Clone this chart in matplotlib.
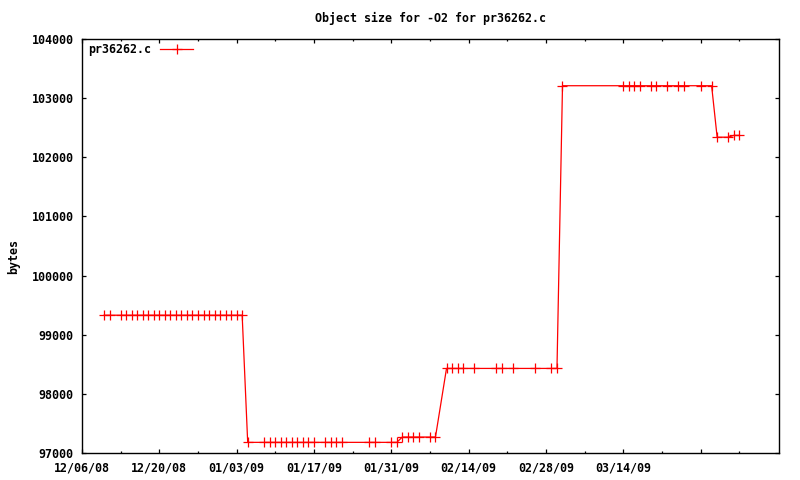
"""
Object size over time for pr36262.c (-O2)
"""

import numpy as np
import pandas as pd
import matplotlib
matplotlib.use('Agg')
from matplotlib import pyplot as plt

# data: days after 12/06/08 and object size in bytes
start = pd.Timestamp('2008-12-06')
day_offsets = [4, 5, 7, 8, 9, 10, 11, 12, 13, 14, 15, 16, 17, 18, 19, 20, 21, 22, 23, 24, 25, 26, 27, 28, 29,
               30, 33, 34, 35, 36, 37, 38, 39, 40, 41, 42, 44, 45, 46, 47, 52, 53, 56, 57,
               58, 59, 60, 61, 63, 64,
               66, 67, 68, 69, 71, 75, 76, 78, 82, 85, 86,
               87, 98, 99, 100, 101, 103, 104, 106, 108, 109, 112, 114,
               115, 117, 118, 119]
sizes = [99330] * 25 + [97180] * 19 + [97270] * 6 + [98430] * 11 + [103210] * 12 + \
        [102340, 102340, 102370, 102370]

# axis ticks
major_dates = ['12/06/08', '12/20/08', '01/03/09', '01/17/09', '01/31/09', '02/14/09', '02/28/09',
               '03/14/09', '03/28/09']
major_labels = ['12/06/08', '12/20/08', '01/03/09', '01/17/09', '01/31/09', '02/14/09', '02/28/09',
                '03/14/09', '']
minor_dates = ['12/13/08', '12/27/08', '01/10/09', '01/24/09', '02/07/09', '02/21/09', '03/07/09',
               '03/21/09', '04/04/09']
yticks = [97000, 98000, 99000, 100000, 101000, 102000, 103000, 104000]

dates = start + pd.to_timedelta(day_offsets, unit='D')

plt.rcParams['font.family'] = ['DejaVu Sans Mono']
plt.rcParams['font.weight'] = 'bold'
plt.rcParams['font.size'] = 8.4

fig = plt.figure(figsize=(8, 4.8), dpi=100)
ax = fig.add_axes([82 / 800, 27 / 480, 697 / 800, 414 / 480])

ax.plot(dates, sizes, color='#ff0000', lw=0.9, marker='+', ms=6.5, mew=0.9, label='pr36262.c')

ax.set_xlim(start, start + pd.Timedelta(days=126.2))
ax.set_ylim(97000, 104000)
ax.set_yticks(yticks)
ax.set_yticklabels([str(v) for v in yticks])
ax.set_xticks(pd.to_datetime(major_dates, format='%m/%d/%y'))
ax.set_xticklabels(major_labels)
ax.set_xticks(pd.to_datetime(minor_dates, format='%m/%d/%y'), minor=True)

ax.tick_params(which='both', direction='in', top=True, right=True, width=0.9, color='black')
ax.tick_params(which='major', length=3, pad=6)
ax.tick_params(which='minor', length=1.5)
for s in ax.spines.values():
    s.set_linewidth(1.0)

ax.set_title('Object size for -O2 for pr36262.c', fontsize=8.4, fontweight='bold', pad=12.5)
fig.text(14 / 800, 1 - 256 / 480, 'bytes', rotation=90, ha='center', va='center')

ax.legend(loc='upper left', bbox_to_anchor=(6 / 697, 1 - 4 / 414), markerfirst=False, frameon=False,
          handlelength=2.8, borderaxespad=0.0, borderpad=0.0, handletextpad=0.8)

plt.savefig('out.png', dpi=100)
